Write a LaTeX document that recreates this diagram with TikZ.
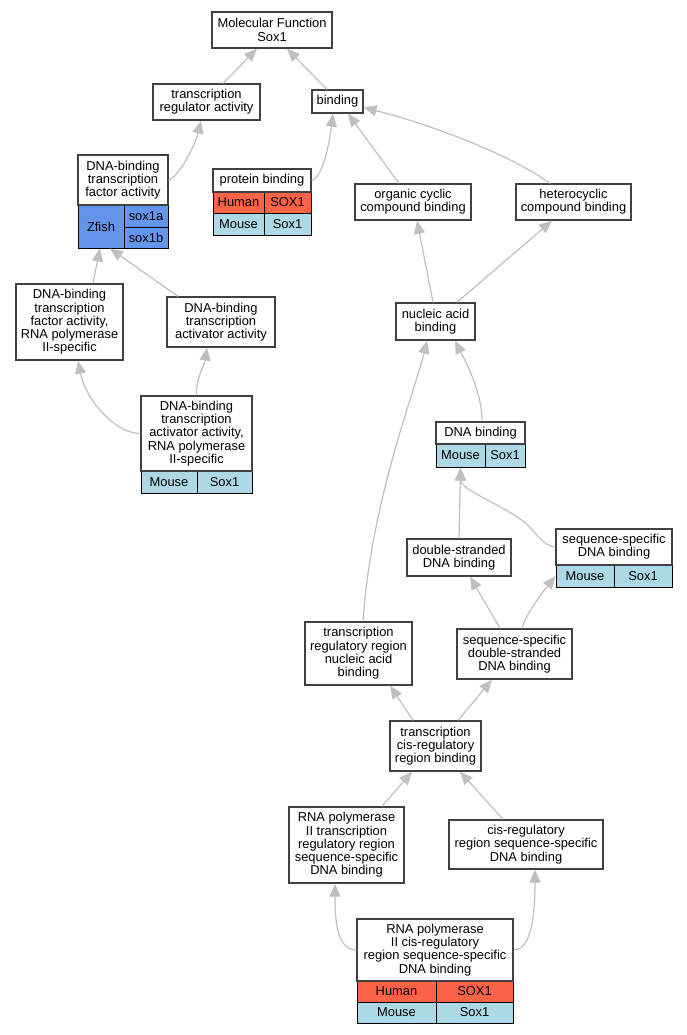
\documentclass[tikz,border=0pt]{standalone}
\usepackage{fontspec}
\setmainfont{Liberation Sans}
\usetikzlibrary{arrows.meta,calc}
\definecolor{human}{RGB}{255,99,71}
\definecolor{mouse}{RGB}{173,216,230}
\definecolor{zfish}{RGB}{100,149,237}
\definecolor{edgegray}{RGB}{192,192,192}
\begin{document}
\begin{tikzpicture}[x=1pt,y=-1pt,
    font=\fontsize{12.9}{13.3}\selectfont,
    term/.style={draw=black!75,line width=1.3pt,fill=white,inner sep=0pt,align=center},
    cell/.style={draw=black,line width=1pt,inner sep=0pt},
    isa/.style={draw=edgegray,line width=1.2pt,-{Triangle[length=13pt,width=11pt]}}]
   \useasboundingbox[fill=white] (0,0) rectangle (687,1035);
   % upper terms
   \node[term,minimum width=120,minimum height=36] (mf) at (272,30) {Molecular Function\\Sox1};
   \node[term,minimum width=107,minimum height=36] (tra) at (206.5,102) {transcription\\regulator activity};
   \node[term,minimum width=51,minimum height=23] (bind) at (337.5,101.5) {binding};
   \node[cell,fill=zfish,minimum width=46,minimum height=43] (dbtfz) at (101,226.5) {Zfish};
   \node[cell,fill=zfish,minimum width=44,minimum height=22] (dbtfa) at (146,216) {sox1a};
   \node[cell,fill=zfish,minimum width=44,minimum height=21] (dbtfb) at (146,237.5) {sox1b};
   \node[term,minimum width=90,minimum height=50] (dbtf) at (123,180) {DNA-binding\\transcription\\factor activity};
   \node[cell,fill=human,minimum width=51,minimum height=21] (proth) at (238.5,202.5) {Human};
   \node[cell,fill=human,minimum width=47,minimum height=21] (prothg) at (287.5,202.5) {SOX1};
   \node[cell,fill=mouse,minimum width=51,minimum height=22] (protm) at (238.5,224) {Mouse};
   \node[cell,fill=mouse,minimum width=47,minimum height=22] (protmg) at (287.5,224) {Sox1};
   \node[term,minimum width=98,minimum height=23] (prot) at (262,180.5) {protein binding};
   \node[term,minimum width=116,minimum height=36] (occ) at (413,202) {organic cyclic\\compound binding};
   \node[term,minimum width=115,minimum height=36] (hcc) at (573.5,202) {heterocyclic\\compound binding};
   \node[term,minimum width=79,minimum height=37] (nab) at (435.5,321.5) {nucleic acid\\binding};
   % left column
   \node[term,minimum width=107,minimum height=76] (dbtf2) at (69.5,322) {DNA-binding\\transcription\\factor activity,\\RNA polymerase\\II-specific};
   \node[term,minimum width=108,minimum height=50] (dbta) at (221,322) {DNA-binding\\transcription\\activator activity};
   \node[cell,fill=mouse,minimum width=56,minimum height=22] (dbta2m) at (169,482) {Mouse};
   \node[cell,fill=mouse,minimum width=55,minimum height=22] (dbta2g) at (224.5,482) {Sox1};
   \node[term,minimum width=111,minimum height=75] (dbta2) at (196.5,433.5) {DNA-binding\\transcription\\activator activity,\\RNA polymerase\\II-specific};
   % DNA binding part
   \node[cell,fill=mouse,minimum width=49,minimum height=23] (dnabm) at (460.5,455.5) {Mouse};
   \node[cell,fill=mouse,minimum width=40,minimum height=23] (dnabg) at (505,455.5) {Sox1};
   \node[term,minimum width=89,minimum height=22] (dnab) at (480.5,433) {DNA binding};
   \node[term,minimum width=104,minimum height=37] (dsdb) at (459,557.5) {double-stranded\\DNA binding};
   \node[cell,fill=mouse,minimum width=58,minimum height=22] (ssdbm) at (585,576) {Mouse};
   \node[cell,fill=mouse,minimum width=58,minimum height=22] (ssdbg) at (643,576) {Sox1};
   \node[term,minimum width=116,minimum height=36] (ssdb) at (614,547) {sequence-specific\\DNA binding};
   \node[term,minimum width=107,minimum height=63] (trnab) at (358.5,653.5) {transcription\\regulatory region\\nucleic acid\\binding};
   \node[term,minimum width=115,minimum height=50] (ssds) at (514.5,654) {sequence-specific\\double-stranded\\DNA binding};
   \node[term,minimum width=91,minimum height=50] (tcis) at (435.5,746) {transcription\\cis-regulatory\\region binding};
   \node[term,minimum width=115,minimum height=76] (rp2tr) at (346.5,845) {RNA polymerase\\II transcription\\regulatory region\\sequence-specific\\DNA binding};
   \node[term,minimum width=154,minimum height=49] (cisr) at (526,844.5) {cis-regulatory\\region sequence-specific\\DNA binding};
   \node[cell,fill=human,minimum width=79,minimum height=21] (rp2cish) at (396.5,991.5) {Human};
   \node[cell,fill=human,minimum width=77,minimum height=21] (rp2cishg) at (474.5,991.5) {SOX1};
   \node[cell,fill=mouse,minimum width=79,minimum height=21] (rp2cism) at (396.5,1012.5) {Mouse};
   \node[cell,fill=mouse,minimum width=77,minimum height=21] (rp2cismg) at (474.5,1012.5) {Sox1};
   \node[term,minimum width=156,minimum height=62] (rp2cis) at (435,950) {RNA polymerase\\II cis-regulatory\\region sequence-specific\\DNA binding};
   % is_a edges
   \draw[isa] ([xshift=16.5]tra.north) -- ([xshift=-15]mf.south);
   \draw[isa] ([xshift=-10.5]bind.north) -- ([xshift=15]mf.south);
   \draw[isa] (dbtf.east) .. controls +(10,-3) and +(-6,25) .. ([xshift=-5.5]tra.south);
   \draw[isa] (prot.east) .. controls +(12,-4) and +(-3,25) .. ([xshift=-4.5]bind.south);
   \draw[isa] ([xshift=-14]occ.north) -- ([xshift=10.5]bind.south);
   \draw[isa] ([xshift=-23.5]hcc.north) .. controls +(-40,-29) and +(67,17) .. ($(bind.east)+(0,6)$);
   \draw[isa] ([xshift=-2.5]nab.north) -- ([xshift=4]occ.south);
   \draw[isa] ([xshift=21.5]nab.north) -- ([xshift=-21.5]hcc.south);
   \draw[isa] ([xshift=23.5]dbtf2.north) -- ([xshift=-1]dbtfz.south);
   \draw[isa] ([xshift=-43]dbta.north) -- ([xshift=9]dbtfz.south);
   \draw[isa] (dbta2.west) .. controls +(-25,0) and +(8,40) .. ([xshift=8.5]dbtf2.south);
   \draw[isa] (dbta2.north) .. controls +(0,-20) and +(-3,20) .. ([xshift=-14]dbta.south);
   \draw[isa] ([xshift=4.5]trnab.north) .. controls +(8,-120) and +(-12,50) .. ([xshift=-8.5]nab.south);
   \draw[isa] ([xshift=1.5]dnab.north) .. controls +(0,-30) and +(10,20) .. ([xshift=19.5]nab.south);
   \draw[isa] (dsdb.north) -- (dnabm.south);
   \draw[isa] (ssdb.west) .. controls +(-12,0) and +(8,6) .. ($(ssdb.west)+(-31,-25)$)
      .. controls +(-24,-18) and +(0,22) .. (dnabm.south);
   \draw[isa] ([xshift=-14.5]ssds.north) -- ([xshift=11]dsdb.south);
   \draw[isa] ([xshift=7.5]ssds.north) .. controls +(4,-15) and +(-12,15) .. (ssdbm.west);
   \draw[isa] ([xshift=-22.5]tcis.north) -- ([xshift=31.5]trnab.south);
   \draw[isa] ([xshift=22.5]tcis.north) -- ([xshift=-22.5]ssds.south);
   \draw[isa] ([xshift=35.5]rp2tr.north) -- ([xshift=-23.5]tcis.south);
   \draw[isa] ([xshift=-23]cisr.north) -- ([xshift=24.5]tcis.south);
   \draw[isa] (rp2cis.west) .. controls +(-20,0) and +(0,35) .. ([xshift=-11.5]rp2tr.south);
   \draw[isa] (rp2cis.east) .. controls +(20,0) and +(0,35) .. ([xshift=9]cisr.south);
\end{tikzpicture}
\end{document}
